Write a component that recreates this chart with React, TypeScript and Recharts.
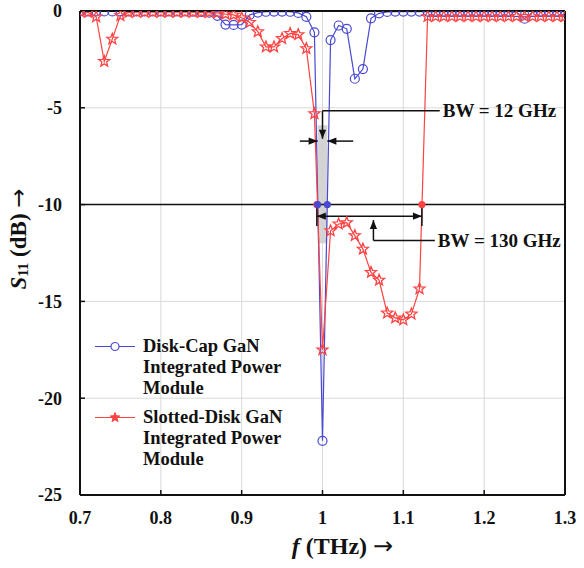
import React from 'react'
import { ComposedChart, Line, Scatter, XAxis, YAxis, CartesianGrid, ReferenceLine, ReferenceArea, Legend } from 'recharts'

const FONT = '"Liberation Serif", "Times New Roman", serif'
const ARROW_FONT = '"DejaVu Sans", sans-serif'
const BLUE = '#4848d2'
const RED = '#ff4343'
const INK = '#111'

// frequency sweep, THz
const freq = [
  0.7, 0.71, 0.72, 0.73, 0.74, 0.75, 0.76, 0.77, 0.78, 0.79,
  0.8, 0.81, 0.82, 0.83, 0.84, 0.85, 0.86, 0.87, 0.88, 0.89,
  0.9, 0.91, 0.92, 0.93, 0.94, 0.95, 0.96, 0.97, 0.98, 0.99,
  1.0, 1.01, 1.02, 1.03, 1.04, 1.05, 1.06, 1.07, 1.08, 1.09,
  1.1, 1.11, 1.12, 1.13, 1.14, 1.15, 1.16, 1.17, 1.18, 1.19,
  1.2, 1.21, 1.22, 1.23, 1.24, 1.25, 1.26, 1.27, 1.28, 1.29, 1.3,
]

// S11 in dB
const diskCap = [
  -0.02, -0.02, -0.02, -0.02, -0.02, -0.02, -0.02, -0.02, -0.02, -0.02,
  -0.02, -0.02, -0.02, -0.02, -0.03, -0.05, -0.08, -0.25, -0.7, -0.72,
  -0.7, -0.2, -0.08, -0.04, -0.03, -0.03, -0.04, -0.1, -0.3, -1.1,
  -22.2, -1.5, -0.75, -0.92, -3.5, -3.0, -0.38, -0.12, -0.05, -0.03,
  -0.03, -0.03, -0.03, -0.03, -0.03, -0.03, -0.03, -0.03, -0.03, -0.03,
  -0.03, -0.03, -0.03, -0.03, -0.06, -0.4, -0.05, -0.03, -0.03, -0.03, -0.03,
]
const slotted = [
  -0.03, -0.07, -0.3, -2.6, -1.45, -0.24, -0.07, -0.06, -0.06, -0.06,
  -0.06, -0.06, -0.06, -0.06, -0.06, -0.07, -0.07, -0.1, -0.16, -0.2,
  -0.35, -0.59, -1.07, -1.85, -1.85, -1.42, -1.16, -1.22, -1.94, -5.3,
  -17.5, -11.35, -11.0, -10.93, -11.6, -12.3, -13.5, -13.9, -15.6, -15.85,
  -15.95, -15.65, -14.35, -0.28, -0.28, -0.28, -0.28, -0.28, -0.28, -0.28,
  -0.28, -0.28, -0.28, -0.28, -0.28, -0.28, -0.28, -0.28, -0.28, -0.28, -0.28,
]

// -10 dB crossings (bandwidth edges)
const diskCapBw = [0.994, 1.006]
const slottedBw = [0.993, 1.123]
const bwLevel = -10

const xTicks = [0.7, 0.8, 0.9, 1, 1.1, 1.2, 1.3]
const yTicks = [0, -5, -10, -15, -20, -25]

const diskCapLabel = ['Disk-Cap GaN', 'Integrated Power', 'Module']
const slottedLabel = ['Slotted-Disk GaN', 'Integrated Power', 'Module']

const diskCapData = freq.map((f, i) => ({ f, s11: diskCap[i] }))
const slottedData = freq.map((f, i) => ({ f, s11: slotted[i] }))
const diskCapBwData = diskCapBw.map((f) => ({ f, s11: bwLevel }))
const slottedBwData = slottedBw.map((f) => ({ f, s11: bwLevel }))

const fmtGHz = (pair: number[]) => `BW = ${Math.round((pair[1] - pair[0]) * 1000)} GHz`

function starPoints(cx: number, cy: number, R: number, r: number) {
  const pts: string[] = []
  for (let k = 0; k < 10; k++) {
    const rad = k % 2 === 0 ? R : r
    const a = -Math.PI / 2 + (k * Math.PI) / 5
    pts.push(`${cx + rad * Math.cos(a)},${cy + rad * Math.sin(a)}`)
  }
  return pts.join(' ')
}

const CircleDot = (p: any) =>
  p.cx == null ? <g key={p.index} /> : <circle key={p.index} cx={p.cx} cy={p.cy} r={4.5} fill="none" stroke={BLUE} strokeWidth={1.2} />
const StarDot = (p: any) =>
  p.cx == null ? <g key={p.index} /> : <polygon key={p.index} points={starPoints(p.cx, p.cy, 5.8, 2.5)} fill="none" stroke={RED} strokeWidth={1.3} />

const head = (x: number, y: number, dx: number, dy: number) => {
  const len = 9, half = 3.6
  const bx = x - dx * len, by = y - dy * len
  return `${x},${y} ${bx - dy * half},${by + dx * half} ${bx + dy * half},${by - dx * half}`
}

// line segment with optional arrow heads and a trailing text label
function arrow(opts: { start?: boolean; end?: boolean; text?: string }) {
  return (p: any) => {
    const { x1, y1, x2, y2 } = p
    const L = Math.hypot(x2 - x1, y2 - y1) || 1
    const dx = (x2 - x1) / L, dy = (y2 - y1) / L
    return (
      <g>
        <line x1={x1} y1={y1} x2={x2} y2={y2} stroke={INK} strokeWidth={1.5} />
        {opts.end ? <polygon points={head(x2, y2, dx, dy)} fill={INK} /> : null}
        {opts.start ? <polygon points={head(x1, y1, -dx, -dy)} fill={INK} /> : null}
        {opts.text ? (
          <text x={x2 + 3} y={y2} dominantBaseline="central" fontFamily={FONT} fontWeight="bold" fontSize={19} fill={INK}>
            {opts.text}
          </text>
        ) : null}
      </g>
    )
  }
}

const XLabel = (p: any) => {
  const vb = p.viewBox
  return (
    <text x={vb.x + vb.width / 2 + 20} y={vb.y + 59} textAnchor="middle" fontFamily={FONT} fontWeight="bold" fontSize={24} fill={INK}>
      <tspan fontStyle="italic">f</tspan> (THz) <tspan fontFamily={ARROW_FONT} fontWeight="normal">→</tspan>
    </text>
  )
}

const YLabel = (p: any) => {
  const vb = p.viewBox
  const cx = 18
  const cy = vb.y + vb.height / 2 - 14
  return (
    <text x={cx} y={cy} transform={`rotate(-90, ${cx}, ${cy})`} textAnchor="middle" dominantBaseline="central" fontFamily={FONT} fontWeight="bold" fontSize={23} fill={INK}>
      <tspan fontStyle="italic">S</tspan>
      <tspan fontSize={15} dy={5}>11</tspan>
      <tspan dy={-5}> (dB) </tspan>
      <tspan fontFamily={ARROW_FONT} fontWeight="normal">→</tspan>
    </text>
  )
}

const legendRows: Record<string, { lines: string[]; marker: 'circle' | 'star' }> = {
  [diskCapLabel.join(' ')]: { lines: diskCapLabel, marker: 'circle' },
  [slottedLabel.join(' ')]: { lines: slottedLabel, marker: 'star' },
}

const LegendBox = (props: any) => {
  const items = (props.payload || []).filter((e: any) => legendRows[e.value])
  return (
    <div style={{ fontFamily: FONT, fontWeight: 'bold', fontSize: 18.5, lineHeight: '21px', color: INK }}>
      {items.map((e: any, i: number) => {
        const row = legendRows[e.value]
        return (
          <div key={i} style={{ display: 'flex', alignItems: 'flex-start', marginBottom: 8 }}>
            <svg width={50} height={21} style={{ flex: 'none' }}>
              <line x1={2} y1={10.5} x2={42} y2={10.5} stroke={e.color} strokeWidth={1.2} />
              {row.marker === 'circle' ? (
                <circle cx={22} cy={10.5} r={4} fill="white" stroke={e.color} strokeWidth={1.2} />
              ) : (
                <polygon points={starPoints(22, 10.5, 5, 2.2)} fill={e.color} stroke={e.color} strokeWidth={1} />
              )}
            </svg>
            <div>
              {row.lines.map((t) => (
                <div key={t}>{t}</div>
              ))}
            </div>
          </div>
        )
      })}
    </div>
  )
}

const tickStyle = { fontFamily: FONT, fontWeight: 'bold', fontSize: 18, fill: INK }
const axisLine = { stroke: INK, strokeWidth: 2 }
const tickLine = { stroke: INK, strokeWidth: 1.5 }

export default function App() {
  const bwMid = (diskCapBw[0] + diskCapBw[1]) / 2
  return (
    <div style={{ position: 'absolute', left: 0, top: 0, width: 584, height: 568, background: '#fff' }}>
      <ComposedChart width={584} height={568} margin={{ top: 10, right: 18, bottom: 13, left: 0 }}>
        <CartesianGrid stroke="#dadada" strokeWidth={1} />
        <XAxis
          dataKey="f"
          type="number"
          domain={[0.7, 1.3]}
          ticks={xTicks}
          allowDataOverflow
          height={60}
          tick={tickStyle}
          tickSize={-5}
          tickMargin={21}
          axisLine={axisLine}
          tickLine={tickLine}
          label={{ content: XLabel }}
        />
        <XAxis xAxisId="top" orientation="top" type="number" domain={[0.7, 1.3]} ticks={xTicks} height={1} tick={false} tickSize={-5} axisLine={axisLine} tickLine={tickLine} />
        <YAxis
          type="number"
          domain={[-25, 0]}
          ticks={yTicks}
          allowDataOverflow
          width={80}
          tick={tickStyle}
          tickSize={-5}
          tickMargin={23}
          axisLine={axisLine}
          tickLine={tickLine}
          label={{ content: YLabel }}
        />
        <YAxis yAxisId="right" orientation="right" type="number" domain={[-25, 0]} ticks={yTicks} width={1} tick={false} tickSize={-5} axisLine={axisLine} tickLine={tickLine} />

        <ReferenceArea x1={diskCapBw[0]} x2={diskCapBw[1]} y1={-12} y2={-5.9} fill="#cfcfcf" fillOpacity={0.9} stroke="none" />
        <ReferenceLine y={bwLevel} stroke={INK} strokeWidth={1.5} />

        <Line data={diskCapData} dataKey="s11" name={diskCapLabel.join(' ')} stroke={BLUE} strokeWidth={1.2} dot={CircleDot} activeDot={false} isAnimationActive={false} />
        <Line data={slottedData} dataKey="s11" name={slottedLabel.join(' ')} stroke={RED} strokeWidth={1.2} dot={StarDot} activeDot={false} isAnimationActive={false} />

        {/* 12 GHz annotation */}
        <ReferenceLine segment={[{ x: bwMid, y: -5.15 }, { x: 1.145, y: -5.15 }]} shape={arrow({ text: fmtGHz(diskCapBw) })} />
        <ReferenceLine segment={[{ x: bwMid, y: -5.15 }, { x: bwMid, y: -6.6 }]} shape={arrow({ end: true })} />
        <ReferenceLine segment={[{ x: 0.972, y: -6.72 }, { x: diskCapBw[0], y: -6.72 }]} shape={arrow({ end: true })} />
        <ReferenceLine segment={[{ x: 1.038, y: -6.72 }, { x: diskCapBw[1], y: -6.72 }]} shape={arrow({ end: true })} />

        {/* 130 GHz annotation */}
        <ReferenceLine segment={[{ x: slottedBw[0], y: bwLevel }, { x: slottedBw[0], y: -11.1 }]} shape={arrow({})} />
        <ReferenceLine segment={[{ x: slottedBw[1], y: bwLevel }, { x: slottedBw[1], y: -11.1 }]} shape={arrow({})} />
        <ReferenceLine segment={[{ x: slottedBw[0], y: -10.6 }, { x: slottedBw[1], y: -10.6 }]} shape={arrow({ start: true, end: true })} />
        <ReferenceLine segment={[{ x: 1.063, y: -11.85 }, { x: 1.063, y: -10.8 }]} shape={arrow({ end: true })} />
        <ReferenceLine segment={[{ x: 1.063, y: -11.85 }, { x: 1.139, y: -11.85 }]} shape={arrow({ text: fmtGHz(slottedBw) })} />

        <Scatter data={slottedBwData} dataKey="s11" legendType="none" isAnimationActive={false} shape={(p: any) => <circle cx={p.cx} cy={p.cy} r={3.6} fill={RED} />} />
        <Scatter data={diskCapBwData} dataKey="s11" legendType="none" isAnimationActive={false} shape={(p: any) => <circle cx={p.cx} cy={p.cy} r={3.6} fill={BLUE} />} />

        <Legend layout="vertical" verticalAlign="middle" align="center" content={LegendBox} wrapperStyle={{ left: 93, top: 336, width: 230, height: 140 }} />
      </ComposedChart>
    </div>
  )
}
